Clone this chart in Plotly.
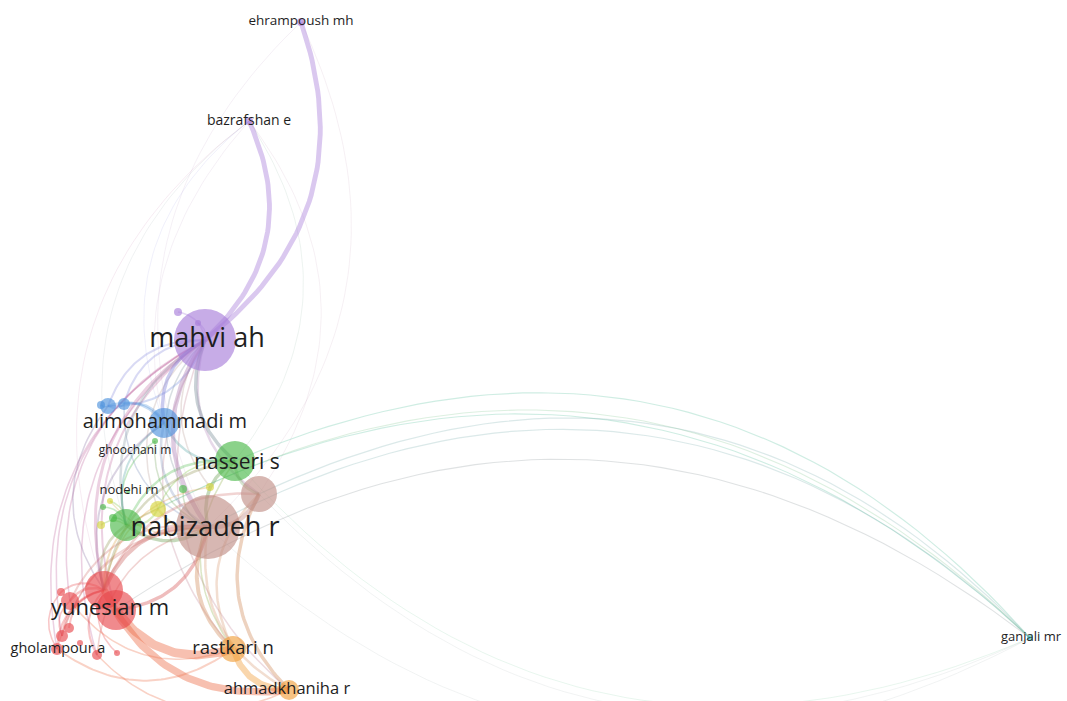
import numpy as np
import plotly.graph_objects as go

# ---------------- data ----------------
node_ids = ["mahvi", "bazrafshan", "ehrampoush", "p3", "p4",
            "alimohammadi", "b6", "b7", "b8",
            "ghoochani", "nasseri", "brown2", "nabizadeh", "green2", "yellow1",
            "g15", "y16", "g17", "g18", "y19", "y20", "nodehi",
            "yunesian", "yunesian2", "red22", "red23", "red24", "red25", "gholampour", "red27", "red28", "red29",
            "rastkari", "ahmadkhaniha", "ganjali"]
node_x = [205, 249, 301, 178, 198,
          164, 108, 124, 101,
          155, 235, 259, 208, 126, 158,
          183, 210, 103, 113, 101, 110, 128,
          104, 116, 61, 70, 69, 62, 57, 97, 117, 80,
          233, 289, 1030]
node_y = [340, 121, 22, 312, 323,
          423, 406, 404, 405,
          441, 461, 494, 527, 525, 509,
          489, 487, 507, 518, 525, 501, 492,
          590, 610, 592, 601, 628, 636, 649, 655, 653, 643,
          649, 690, 638]
node_r = [31, 4, 4, 4, 3,
          15, 8, 6, 4,
          3, 20, 18, 32, 16, 8,
          4, 4, 3, 4, 4, 3, 2,
          19, 20, 4, 9, 5, 6, 6, 5, 3, 3,
          13, 10, 3]
node_cluster = ["purple", "purple", "purple", "purple", "purple",
                "blue", "blue", "blue", "blue",
                "green", "green", "brown", "brown", "green", "yellow",
                "green", "yellow", "green", "green", "yellow", "yellow", "green",
                "red", "red", "red", "red", "red", "red", "red", "red", "red", "red",
                "orange", "orange", "teal"]

label_text = ["mahvi ah", "bazrafshan e", "ehrampoush mh", "alimohammadi m", "ghoochani m",
              "nasseri s", "nabizadeh r", "nodehi rn", "yunesian m", "gholampour a",
              "rastkari n", "ahmadkhaniha r", "ganjali mr"]
label_x = [207, 249, 301, 165, 135, 237, 205, 129, 110, 58, 233, 287, 1031]
label_y = [340, 121, 22, 423, 451, 464, 529, 491, 609, 649, 649, 690, 638]
label_size = [27, 14, 13.5, 20, 12, 21, 27, 13, 22, 14.5, 18.5, 16.5, 13]

edge_source = ["mahvi", "mahvi", "mahvi", "mahvi", "mahvi", "mahvi", "mahvi", "mahvi", "mahvi",
               "mahvi", "mahvi", "mahvi", "mahvi", "mahvi", "mahvi", "mahvi", "mahvi",
               "mahvi", "mahvi", "mahvi", "mahvi", "mahvi",
               "bazrafshan", "bazrafshan", "bazrafshan", "bazrafshan", "ehrampoush",
               "nabizadeh", "brown2", "nasseri",
               "alimohammadi", "alimohammadi", "b6", "b8", "alimohammadi", "alimohammadi",
               "alimohammadi", "alimohammadi", "b6", "b7", "b6",
               "nasseri", "nasseri", "nasseri", "nasseri", "nasseri", "nasseri",
               "green2", "green2", "green2", "green2", "green2", "green2", "green2",
               "ghoochani", "ghoochani", "g15", "yellow1", "yellow1", "y16", "y20",
               "nabizadeh", "nabizadeh", "nabizadeh", "brown2", "nabizadeh", "brown2", "brown2",
               "nabizadeh", "nabizadeh", "nabizadeh", "nabizadeh",
               "yunesian2", "yunesian", "rastkari",
               "yunesian", "yunesian", "yunesian", "yunesian", "yunesian", "yunesian", "yunesian",
               "red23", "gholampour", "red27", "red23", "red22", "yunesian2",
               "ganjali", "ganjali", "ganjali", "ganjali", "ganjali", "ganjali",
               "nasseri", "nabizadeh", "brown2"]
edge_target = ["bazrafshan", "ehrampoush", "p3", "p4", "alimohammadi", "nasseri", "nabizadeh", "brown2", "green2",
               "yellow1", "yunesian", "red23", "rastkari", "ahmadkhaniha", "b6", "b7", "gholampour",
               "yunesian2", "red25", "red27", "g15", "y16",
               "nabizadeh", "yunesian", "green2", "alimohammadi", "nabizadeh",
               "ehrampoush", "bazrafshan", "bazrafshan",
               "b6", "b7", "b7", "b6", "nasseri", "nabizadeh",
               "green2", "yunesian", "yunesian", "nabizadeh", "mahvi",
               "nabizadeh", "green2", "brown2", "yellow1", "yunesian", "rastkari",
               "nabizadeh", "yunesian", "yellow1", "g17", "g18", "y19", "y20",
               "green2", "nabizadeh", "nabizadeh", "nabizadeh", "yunesian", "yunesian", "nabizadeh",
               "brown2", "yunesian", "rastkari", "ahmadkhaniha", "ahmadkhaniha", "yunesian", "rastkari",
               "red23", "red25", "gholampour", "red27",
               "rastkari", "ahmadkhaniha", "ahmadkhaniha",
               "red22", "red23", "red24", "red25", "gholampour", "red27", "red28",
               "rastkari", "rastkari", "ahmadkhaniha", "red25", "gholampour", "nabizadeh",
               "nasseri", "brown2", "nabizadeh", "green2", "yunesian2", "yellow1",
               "ganjali", "ganjali", "ganjali"]
edge_weight = [4.5, 4.5, 1, 1, 3, 3, 4, 2, 2,
               1, 2.5, 1, 1, 1, 1.5, 1.5, 1,
               1.5, 1, 1, 1, 1,
               0.3, 0.3, 0.3, 0.3, 0.3,
               0.3, 0.3, 0.3,
               2, 2, 1.5, 1, 2, 2,
               1.5, 1.5, 1, 1, 1.5,
               3, 2, 2.5, 1, 2, 1,
               3, 2, 1.5, 1, 1, 1, 1,
               1, 1, 1, 2, 1.5, 1, 1,
               4, 4, 3.5, 3, 2, 2, 2,
               1.5, 1, 1, 1,
               8.5, 7, 6,
               1.5, 2, 1.5, 1.5, 1.5, 1.5, 1,
               1, 1.5, 1, 1, 1, 3,
               0.6, 0.6, 0.6, 0.5, 0.5, 0.5,
               0.3, 0.3, 0.3]

cluster_color = {"purple": (166, 124, 217), "blue": (74, 144, 220), "green": (72, 184, 70),
                 "brown": (192, 141, 133), "red": (232, 70, 74), "yellow": (212, 212, 56),
                 "orange": (240, 158, 58), "teal": (56, 184, 190)}

# ---------------- figure ----------------
idx = {n: i for i, n in enumerate(node_ids)}
fig = go.Figure()

order = np.argsort(edge_weight, kind="stable")
for k in order:
    s, t, w = idx[edge_source[k]], idx[edge_target[k]], edge_weight[k]
    x0, y0, x1, y1 = node_x[s], node_y[s], node_x[t], node_y[t]
    dx, dy = x1 - x0, y1 - y0
    bend = 0.36
    cx = (x0 + x1) / 2 + (-dy) * bend
    cy = (y0 + y1) / 2 + dx * bend
    tt = np.linspace(0, 1, 50)
    bx = (1 - tt) ** 2 * x0 + 2 * (1 - tt) * tt * cx + tt ** 2 * x1
    by = (1 - tt) ** 2 * y0 + 2 * (1 - tt) * tt * cy + tt ** 2 * y1
    c1 = cluster_color[node_cluster[s]]
    c2 = cluster_color[node_cluster[t]]
    c = tuple(int(0.6 * a + 0.4 * b) for a, b in zip(c1, c2))
    alpha = 0.14 if w < 0.5 else (0.25 if w < 1 else (0.3 if w < 3 else 0.42))
    fig.add_trace(go.Scatter(x=bx, y=by, mode="lines",
                             line=dict(color=f"rgba({c[0]},{c[1]},{c[2]},{alpha})",
                                       width=0.6 + 0.95 * w),
                             hoverinfo="skip", showlegend=False))

norder = sorted(range(len(node_ids)), key=lambda i: -node_r[i])
fig.add_trace(go.Scatter(
    x=[node_x[i] for i in norder], y=[node_y[i] for i in norder], mode="markers",
    marker=dict(size=[2 * node_r[i] for i in norder],
                color=[f"rgba({cluster_color[node_cluster[i]][0]},{cluster_color[node_cluster[i]][1]},{cluster_color[node_cluster[i]][2]},0.9)" for i in norder],
                line=dict(width=0)),
    hoverinfo="skip", showlegend=False))

fig.add_trace(go.Scatter(
    x=label_x, y=label_y, mode="text", text=label_text,
    textposition="middle center",
    textfont=dict(family="Open Sans", size=label_size, color="#1e1e1e"),
    hoverinfo="skip", showlegend=False))

fig.update_layout(width=1067, height=701, margin=dict(l=0, r=0, t=0, b=0),
                  paper_bgcolor="white", plot_bgcolor="white",
                  xaxis=dict(range=[0, 1067], visible=False, fixedrange=True),
                  yaxis=dict(range=[701, 0], visible=False, fixedrange=True))

fig.write_html("out.html", config={"displayModeBar": False},
               post_script="document.body.style.margin='0';")
